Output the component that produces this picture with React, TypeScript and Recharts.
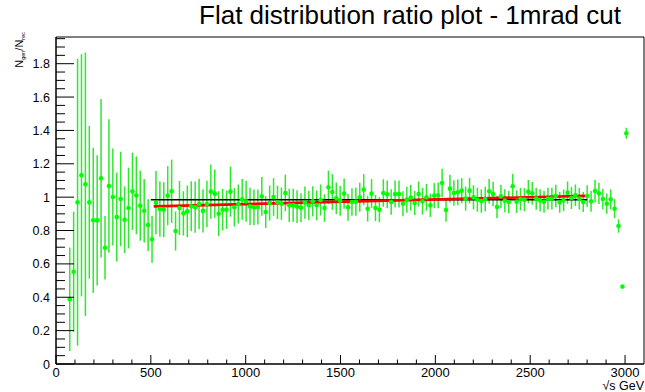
import { ComposedChart, Scatter, ErrorBar, Line, XAxis, YAxis, ReferenceArea } from 'recharts'

// histogram binning: 150 bins over 0-3100 GeV, first filled bin is #3
const X_MAX = 3100
const N_BINS = 150
const FIRST_BIN = 3
const Y_MAX = 1.96

// N_gen / N_rec per bin
const RATIO = [
  0.388, 0.553, 0.969, 1.131, 1.077, 0.969, 0.861, 0.861, 1.113, 0.697,
  1.067, 1.001, 0.881, 0.989, 0.865, 0.935, 1.035, 1.011, 0.949, 0.919,
  0.833, 0.747, 0.967, 0.929, 0.925, 1.009, 1.035, 0.797, 0.935, 0.903,
  0.915, 0.945, 0.94, 0.959, 0.918, 0.959, 1.033, 1.021, 0.901, 0.925,
  0.925, 1.033, 0.939, 0.959, 0.987, 0.975, 0.945, 0.939, 0.941, 1.005,
  0.911, 0.965, 1.001, 0.969, 0.961, 1.025, 0.951, 0.951, 0.943, 0.937,
  0.967, 0.951, 0.975, 0.951, 0.983, 0.935, 1.059, 1.031, 0.993, 0.979,
  1.021, 0.939, 0.971, 0.973, 0.999, 1.045, 0.931, 1.021, 0.935, 0.925,
  1.025, 1.017, 0.971, 1.019, 1.019, 0.961, 0.985, 0.997, 0.965, 1.019,
  0.975, 0.999, 0.951, 1.009, 1.011, 1.085, 0.923, 1.051, 1.025, 1.029,
  1.039, 0.991, 1.039, 0.999, 0.985, 0.977, 0.989, 1.035, 1.019, 0.941,
  1.005, 0.979, 0.971, 1.065, 0.973, 0.989, 0.985, 1.033, 1.023, 0.991,
  0.981, 0.973, 0.991, 0.991, 1.007, 0.969, 0.981, 1.027, 0.995, 1.011,
  0.991, 0.971, 1.007, 0.975, 1.037, 1.023, 0.989, 0.961, 0.987, 0.931,
  0.827, 0.464, 1.383,
]

const ERR = [
  0.31, 0.36, 0.86, 0.726, 0.79, 0.458, 0.435, 0.39, 0.475, 0.19,
  0.4, 0.29, 0.266, 0.283, 0.2, 0.242, 0.232, 0.233, 0.21, 0.19,
  0.155, 0.14, 0.19, 0.167, 0.165, 0.177, 0.19, 0.117, 0.162, 0.133,
  0.155, 0.15, 0.154, 0.152, 0.13, 0.14, 0.163, 0.145, 0.135, 0.125,
  0.115, 0.15, 0.115, 0.117, 0.122, 0.123, 0.112, 0.107, 0.105, 0.116,
  0.095, 0.105, 0.113, 0.1, 0.097, 0.11, 0.1, 0.1, 0.098, 0.087,
  0.097, 0.088, 0.09, 0.09, 0.093, 0.083, 0.1, 0.107, 0.094, 0.09,
  0.091, 0.081, 0.083, 0.085, 0.087, 0.093, 0.077, 0.087, 0.078, 0.075,
  0.082, 0.083, 0.077, 0.081, 0.081, 0.075, 0.078, 0.077, 0.073, 0.075,
  0.08, 0.08, 0.07, 0.075, 0.077, 0.085, 0.07, 0.083, 0.076, 0.077,
  0.075, 0.072, 0.077, 0.073, 0.072, 0.07, 0.073, 0.074, 0.073, 0.067,
  0.07, 0.069, 0.067, 0.075, 0.068, 0.067, 0.07, 0.07, 0.068, 0.066,
  0.067, 0.066, 0.065, 0.065, 0.067, 0.062, 0.065, 0.067, 0.066, 0.065,
  0.065, 0.06, 0.064, 0.062, 0.067, 0.064, 0.062, 0.061, 0.06, 0.057,
  0.04, 0.01, 0.033,
]

// fit lines (black: constant, red: linear)
const FLAT_FIT = [
  { x: 500, y: 0.985 },
  { x: 2800, y: 0.985 },
]
const LINEAR_FIT = [
  { x: 515, y: 0.945 },
  { x: 2790, y: 1.008 },
]

const X_MAJOR = [0, 500, 1000, 1500, 2000, 2500, 3000]

const BIN_WIDTH = X_MAX / N_BINS
const points = RATIO.map((y, i) => ({
  x: (FIRST_BIN + i + 0.5) * BIN_WIDTH,
  y,
  err: ERR[i],
}))

const xTicks: number[] = []
for (let v = 0; v <= 3000; v += 100) xTicks.push(v)
const yTicks: number[] = []
for (let i = 0; i * 0.05 < Y_MAX; i++) yTicks.push(Math.round(i * 5) / 100)

const FONT = '"Liberation Sans", Arial, Helvetica, sans-serif'

function XTick(props: any) {
  const { x, y, payload } = props
  const major = X_MAJOR.includes(payload.value)
  return (
    <g>
      <line x1={x} x2={x} y1={y} y2={y - (major ? 9 : 4.5)} stroke="#000" strokeWidth={1} />
      {major && (
        <text x={x} y={y + 13} textAnchor="middle" fontSize={13} fontFamily={FONT} fill="#000">
          {payload.value}
        </text>
      )}
    </g>
  )
}

function YTick(props: any) {
  const { x, y, payload } = props
  const v = payload.value
  const major = Math.round(v * 100) % 20 === 0
  return (
    <g>
      <line x1={x} x2={x + (major ? 18 : 9)} y1={y} y2={y} stroke="#000" strokeWidth={1} />
      {major && (
        <text x={x - 6} y={y} dy="0.36em" textAnchor="end" fontSize={12.5} fontFamily={FONT} fill="#000">
          {v === 0 ? '0' : String(Number(v.toFixed(1)))}
        </text>
      )}
    </g>
  )
}

const Marker = (props: any) => <circle cx={props.cx} cy={props.cy} r={2.3} fill="#00ff00" />

export default function App() {
  return (
    <div style={{ position: 'absolute', left: 0, top: 0, width: 645, height: 392, background: '#fff' }}>
      <ComposedChart width={645} height={392} margin={{ top: 37, right: 1, bottom: 0, left: 0 }}>
        <XAxis
          type="number"
          dataKey="x"
          domain={[0, X_MAX]}
          ticks={xTicks}
          interval={0}
          allowDataOverflow
          height={28}
          tickSize={0}
          tickMargin={0}
          tickLine={false}
          axisLine={{ stroke: '#000' }}
          tick={<XTick />}
        />
        <YAxis
          type="number"
          dataKey="y"
          domain={[0, Y_MAX]}
          ticks={yTicks}
          interval={0}
          allowDataOverflow
          width={56}
          tickSize={0}
          tickMargin={0}
          tickLine={false}
          axisLine={{ stroke: '#000' }}
          tick={<YTick />}
        />
        <Scatter data={points} shape={<Marker />} isAnimationActive={false}>
          <ErrorBar dataKey="err" direction="y" width={0} stroke="#2ee82e" strokeWidth={1.5} isAnimationActive={false} />
        </Scatter>
        <Line data={FLAT_FIT} dataKey="y" stroke="#000" strokeWidth={1.5} dot={false} isAnimationActive={false} />
        <Line data={LINEAR_FIT} dataKey="y" stroke="#ff0000" strokeWidth={2.6} dot={false} isAnimationActive={false} />
        <ReferenceArea x1={0} x2={X_MAX} y1={0} y2={Y_MAX} fill="none" stroke="#000" strokeWidth={1} ifOverflow="visible" />
      </ComposedChart>
      <svg width={645} height={392} style={{ position: 'absolute', left: 0, top: 0, pointerEvents: 'none' }}>
        <text x={410} y={24} textAnchor="middle" fontSize={26} fontFamily={FONT} fill="#000">
          Flat distribution ratio plot - 1mrad cut
        </text>
        <text transform="translate(23,32) rotate(-90)" textAnchor="end" fontSize={11} fontFamily={FONT} fill="#000">
          N<tspan fontSize={5.5} dy={2}>gen</tspan>
          <tspan fontSize={11} dy={-2}>/N</tspan>
          <tspan fontSize={5.5} dy={2}>rec</tspan>
        </text>
        <text x={644} y={390} textAnchor="end" fontSize={12.5} fontFamily={FONT} fill="#000">
          √s GeV
        </text>
      </svg>
    </div>
  )
}
